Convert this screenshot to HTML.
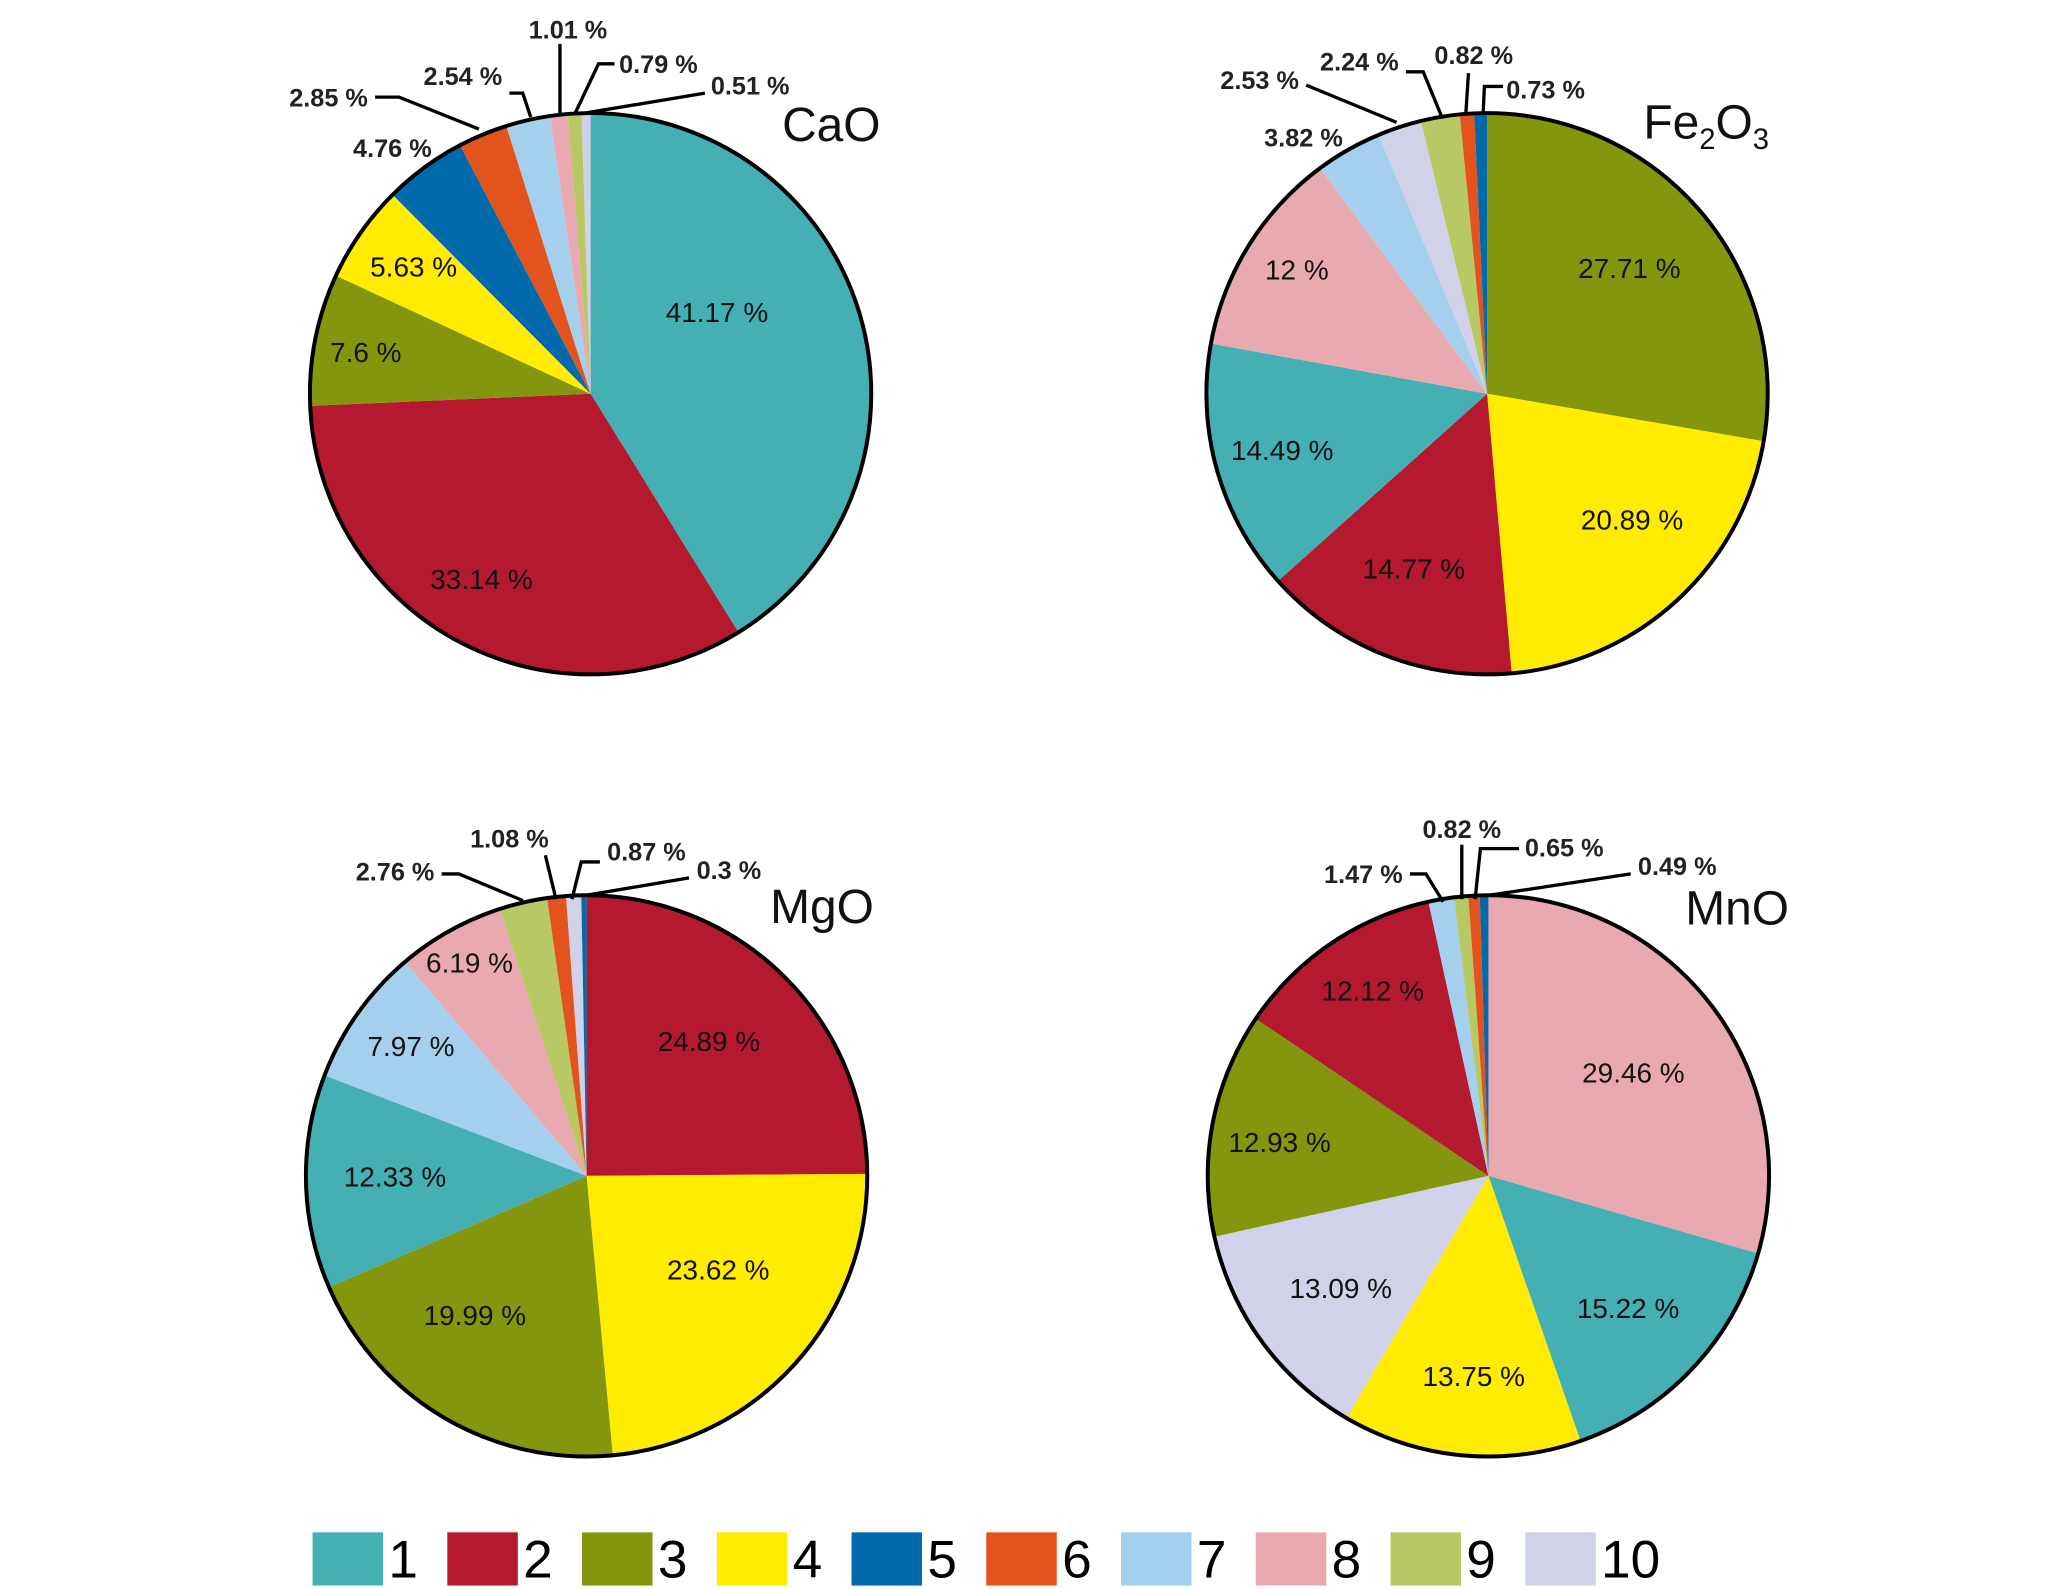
<!DOCTYPE html>
<html><head><meta charset="utf-8"><style>
html,body{margin:0;padding:0;background:#fff;}
svg{display:block;}
text{font-family:"Liberation Sans","DejaVu Sans",sans-serif;}
</style></head><body>
<svg id="chart" width="2067" height="1589" viewBox="0 0 1554 1194.6" preserveAspectRatio="none" xmlns="http://www.w3.org/2000/svg"></svg>
<script>
const colors = ["#45b0b4","#b5192f","#83960e","#ffec00","#006aab","#e3531d","#a4d0ee","#e9a9b1","#b8c864","#d1d1e9"];
const legendLabels = ["1","2","3","4","5","6","7","8","9","10"];
const caoCats = [1,2,3,4,5,6,7,8,9,10];
const caoVals = [41.17,33.14,7.6,5.63,4.76,2.85,2.54,1.01,0.79,0.51];
const feCats = [3,4,2,1,8,7,10,9,6,5];
const feVals = [27.71,20.89,14.77,14.49,12,3.82,2.53,2.24,0.82,0.73];
const mgCats = [2,4,3,1,7,8,9,6,10,5];
const mgVals = [24.89,23.62,19.99,12.33,7.97,6.19,2.76,1.08,0.87,0.3];
const mnCats = [8,1,4,10,3,2,7,9,6,5];
const mnVals = [29.46,15.22,13.75,13.09,12.93,12.12,1.47,0.82,0.65,0.49];

const pies = [
 {name:"cao", title:"CaO", sub:null, cx:444, cy:296, cats:caoCats, vals:caoVals, tx:662, ty:106,
  inner:[[0,539,235],[1,362,436],[2,275,265],[3,311,201]],
  ann:[[4,295,118,[]],[5,247,80,[282,73,300,73,360,97]],[6,348,64,[383,70,393,70,399,88]],[7,427,29,[421,33,421,85]],[8,495,55,[462,48,450,48,432,86]],[9,564,71,[530,70,440,85]]]},
 {name:"fe2o3", title:"Fe", sub:true, cx:1118, cy:296, cats:feCats, vals:feVals, tx:1330, ty:104,
  inner:[[0,1225,202],[1,1227,391],[2,1063,428],[3,964,339],[4,975,203]],
  ann:[[5,980,110,[]],[6,947,67,[982,64,1050,92]],[7,1022,53,[1057,54,1070,54,1084,88]],[8,1108,48,[1104,55,1102,86]],[9,1162,74,[1130,65,1116,65,1115,86]]]},
 {name:"mgo", title:"MgO", sub:null, cx:441, cy:884, cats:mgCats, vals:mgVals, tx:657, ty:694,
  inner:[[0,533,783],[1,540,955],[2,357,989],[3,297,885],[4,309,787],[5,353,724]],
  ann:[[6,297,662,[332,657,345,657,393,677]],[7,383,637,[410,643,418,676]],[8,486,647,[451,648,437,648,430,676]],[9,548,661,[518,660,441,673]]]},
 {name:"mno", title:"MnO", sub:null, cx:1119, cy:884, cats:mnCats, vals:mnVals, tx:1345, ty:695,
  inner:[[0,1228,807],[1,1224,984],[2,1108,1035],[3,1008,969],[4,962,859],[5,1032,745]],
  ann:[[6,1025,664,[1060,657,1072,657,1085,678]],[7,1099,630,[1099,635,1099,676]],[8,1176,644,[1142,638,1113,638,1109,676]],[9,1261,658,[1226,657,1120,673]]]}
];
const R = 211;
const svg = document.getElementById('chart');
const NS = "http://www.w3.org/2000/svg";
function mk(tag, attrs){const e=document.createElementNS(NS,tag);for(const k in attrs)e.setAttribute(k,attrs[k]);return e;}
function angleOf(pct){return pct/100*2*Math.PI;}
function pt(cx,cy,r,a){return [cx+r*Math.sin(a), cy-r*Math.cos(a)];}

pies.forEach(p=>{
  const g = mk('g',{});
  
  
  svg.appendChild(g);
  const total = p.vals.reduce((a,b)=>a+b,0);
  let cum = 0;
  p.vals.forEach((v,i)=>{
    const a0 = angleOf(cum/total*100), a1 = angleOf((cum+v)/total*100);
    const [x0,y0]=pt(p.cx,p.cy,R,a0), [x1,y1]=pt(p.cx,p.cy,R,a1);
    const large = (a1-a0)>Math.PI?1:0;
    const path = mk('path',{d:`M${p.cx},${p.cy} L${x0},${y0} A${R},${R} 0 ${large} 1 ${x1},${y1} Z`, fill:colors[p.cats[i]-1]});
    
    
    g.appendChild(path);
    cum += v;
  });
  p.inner.forEach(a=>{
    const i=a[0];
    const t=mk('text',{x:a[1],y:a[2]+7,'text-anchor':'middle','font-size':21,fill:'#111'});
    t.textContent = p.vals[i]+' %';
    
    
    g.appendChild(t);
  });
  const c = mk('circle',{cx:p.cx,cy:p.cy,r:R,fill:'none',stroke:'#000','stroke-width':3});
  
  
  g.appendChild(c);
  p.ann.forEach(a=>{
    const i=a[0];
    const t=mk('text',{x:a[1],y:a[2],'text-anchor':'middle','font-size':19,'font-weight':'bold',fill:'#222'});
    t.textContent = p.vals[i]+' %';
    
    
    g.appendChild(t);
    if(a[3].length){
      const pts=[];for(let k=0;k<a[3].length;k+=2)pts.push(a[3][k]+','+a[3][k+1]);
      const l=mk('polyline',{points:pts.join(' '),fill:'none',stroke:'#000','stroke-width':2.5});
      
      
      g.appendChild(l);
    }
  });
  const tt=mk('text',{x:p.tx,y:p.ty,'text-anchor':'end','font-size':36,fill:'#111'});
  if(p.sub){
    tt.innerHTML='Fe<tspan font-size="22" dy="8">2</tspan><tspan dy="-8">O</tspan><tspan font-size="22" dy="8">3</tspan>';
  } else tt.textContent=p.title;
  
  
  g.appendChild(tt);
});

const lg = mk('g',{});


svg.appendChild(lg);
legendLabels.forEach((lab,i)=>{
  const x = 235 + i*101.3;
  const r = mk('rect',{x:x,y:1152,width:53,height:40,fill:colors[i]});
  
  
  lg.appendChild(r);
  const t = mk('text',{x:x+57,y:1186,'font-size':40,fill:'#000'});
  t.textContent = lab;
  
  
  lg.appendChild(t);
});
</script>
</body></html>
